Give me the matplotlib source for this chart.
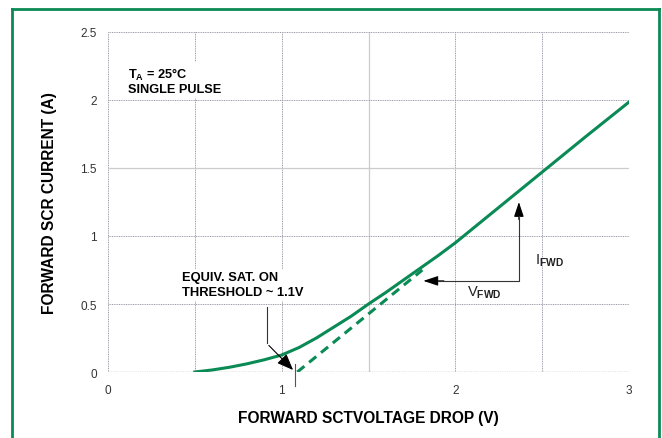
import matplotlib
matplotlib.use('Agg')
import matplotlib.pyplot as plt
from matplotlib.lines import Line2D

plt.rcParams['font.family'] = ['Liberation Sans', 'DejaVu Sans']
plt.rcParams['mathtext.fontset'] = 'custom'
plt.rcParams['mathtext.rm'] = 'Liberation Sans:bold'
plt.rcParams['mathtext.bf'] = 'Liberation Sans:bold'

green = '#0a8a55'

# solid measured curve
v_meas = [0.5, 0.6, 0.7, 0.8, 0.9, 1.0, 1.1, 1.2, 1.3, 1.4, 1.5, 1.6, 1.7, 1.8, 1.9, 2.0, 2.25, 2.5, 2.75, 3.0]
i_meas = [0.0, 0.015, 0.035, 0.06, 0.09, 0.125, 0.18, 0.25, 0.33, 0.41, 0.5, 0.585, 0.675, 0.765, 0.855, 0.95, 1.21, 1.47, 1.73, 1.985]

# dashed extrapolated threshold line
v_ext = [1.09, 1.81]
i_ext = [0.0, 0.75]

x_ticks = [0, 1, 2, 3]
y_ticks = [0, 0.5, 1, 1.5, 2, 2.5]
y_tick_labels = ['0', '0.5', '1', '1.5', '2', '2.5']

fig = plt.figure(figsize=(6.62, 4.39), dpi=100)
ax = fig.add_axes([108/662, 1 - 373/439, (629-108)/662, (373-33)/439])
ax.set_xlim(0, 3)
ax.set_ylim(0, 2.5)

# grid
dot = (0, (1, 0.8))
for x in [0, 0.5, 1, 2, 2.5, 3]:
    ax.axvline(x, color='#9a9aa8', lw=0.7, ls=dot, zorder=1)
ax.axvline(1.5, color='#cccccc', lw=0.9, zorder=1)
for y in [0.5, 1, 2, 2.5]:
    ax.axhline(y, color='#9a9aa8', lw=0.7, ls=dot, zorder=1)
ax.axhline(1.5, color='#cccccc', lw=0.9, zorder=1)
ax.axhline(0, color='#555555', lw=0.9, ls=dot, zorder=1)

for s in ax.spines.values():
    s.set_visible(False)

ax.set_xticks(x_ticks)
ax.set_xticklabels([str(t) for t in x_ticks])
ax.set_yticks(y_ticks)
ax.set_yticklabels(y_tick_labels)
ax.tick_params(length=0, labelsize=8.5, labelcolor='#333333')
ax.tick_params(axis='x', pad=9)
ax.tick_params(axis='y', pad=8)

ax.plot(v_meas, i_meas, color=green, lw=2.2, zorder=4)
ax.plot(v_ext, i_ext, color=green, lw=2.2, ls=(0, (3, 2)), zorder=4)

ax.set_xlabel('FORWARD SCTVOLTAGE DROP (V)', fontsize=11.2, fontweight='bold', labelpad=10)
ax.set_ylabel('FORWARD SCR CURRENT (A)', fontsize=11.2, fontweight='bold', labelpad=17)

# annotations
ax.text(0.115, 2.25, 'T$_\\mathbf{A}$ = 25°C\nSINGLE PULSE', fontsize=9.2, fontweight='bold',
        va='top', ha='left', linespacing=1.1, zorder=3,
        bbox=dict(facecolor='white', edgecolor='none', pad=2))
ax.text(0.425, 0.74, 'EQUIV. SAT. ON\nTHRESHOLD ~ 1.1V', fontsize=9.3, fontweight='bold',
        va='top', ha='left', linespacing=1.3, zorder=3,
        bbox=dict(facecolor='white', edgecolor='none', pad=2))
ax.plot([0.915, 0.915], [0.48, 0.21], color='#333333', lw=0.8, zorder=5)
ax.annotate('', xy=(1.077, 0.0), xytext=(0.915, 0.21),
            arrowprops=dict(arrowstyle='-|>,head_length=1.0,head_width=0.4', color='black', lw=0.8),
            zorder=5)
ax.plot([1.077, 1.077], [0.06, -0.1], color='#555555', lw=0.8, clip_on=False, zorder=5)

ax.plot([2.366, 2.366, 1.9], [1.15, 0.67, 0.67], color='#333333', lw=0.8, zorder=5)
ax.annotate('', xy=(2.366, 1.27), xytext=(2.366, 1.1),
            arrowprops=dict(arrowstyle='-|>,head_length=0.9,head_width=0.3', color='black', lw=0.8))
ax.annotate('', xy=(1.8, 0.67), xytext=(1.95, 0.67),
            arrowprops=dict(arrowstyle='-|>,head_length=0.9,head_width=0.3', color='black', lw=0.8))
ax.text(2.46, 0.885, 'I$_\\mathbf{FWD}$', fontsize=10.5, va='top', ha='left', color='#222222')
ax.text(2.07, 0.65, 'V$_\\mathbf{FWD}$', fontsize=10.5, va='top', ha='left', color='#222222')

# green frame
fx0, fx1, fy1 = 12/662, 659/662, 1 - 10/439
for xs, ys in [([fx0, fx0], [0, fy1]), ([fx0, fx1], [fy1, fy1]), ([fx1, fx1], [fy1, 0])]:
    fig.add_artist(Line2D(xs, ys, transform=fig.transFigure, color=green, lw=2.0))

fig.savefig('out.png', dpi=100)
